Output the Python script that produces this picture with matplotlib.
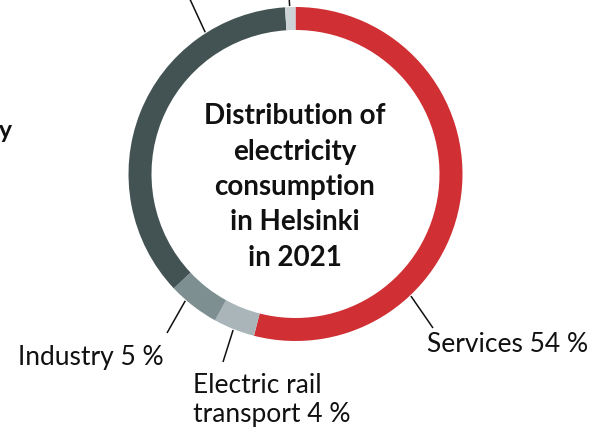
import numpy as np
import matplotlib.pyplot as plt

# shares of electricity use, clockwise from the top
labels = ['Services 54 %', 'Electric rail\ntransport 4 %', 'Industry 5 %', 'Households 36 %', 'Other 1 %']
shares = [54, 4, 5, 36, 1]
colors = ['#D02F34', '#A9B5B9', '#7E8F92', '#435354', '#CDD4D8']

title = 'Distribution of\nelectricity\nconsumption\nin Helsinki\nin 2021'

W, H = 590, 432
cx, cy = 295.5, H - 174
R = 167
ring = 23

fig = plt.figure(figsize=(W / 100, H / 100), dpi=100)
ax = fig.add_axes([0, 0, 1, 1])

ax.pie(shares, colors=colors, startangle=90, counterclock=False,
       center=(cx, cy), radius=R, frame=True,
       wedgeprops=dict(width=ring, linewidth=0))
ax.set_xlim(0, W)
ax.set_ylim(0, H)
ax.axis('off')

ax.text(cx - 1, H - 187, title, ha='center', va='center', fontsize=20,
        fontweight='bold', family='Lato', linespacing=1.45, color='#111111')


def pt(angle, r):
    a = np.deg2rad(angle)
    return cx + r * np.cos(a), cy + r * np.sin(a)


# leader lines: (angle on ring, end point in pixels)
leaders = [(-46.6, (433, 328)), (-111.8, (223, 362)), (-131.0, (167, 333)),
           (122.5, (188, -5)), (92.0, (289, -5))]
for ang, (ex, ey) in leaders:
    sx, sy = pt(ang, R + 1)
    ax.plot([sx, ex], [sy, H - ey], color='#111111', lw=1.1, solid_capstyle='butt')

lab_kw = dict(fontsize=19, family='Lato', fontweight='normal', color='#111111')
ax.text(427, H - 344, labels[0], ha='left', va='center', **lab_kw)
ax.text(193, H - 400, labels[1], ha='left', va='center', linespacing=1.2, **lab_kw)
ax.text(164, H - 357, labels[2], ha='right', va='center', **lab_kw)
# partly cut off at the left edge in the source image
ax.text(12, H - 131, 'electricity', ha='right', va='center', fontsize=18,
        family='Lato', fontweight='bold', color='#111111')

fig.savefig('out.png', dpi=100)
